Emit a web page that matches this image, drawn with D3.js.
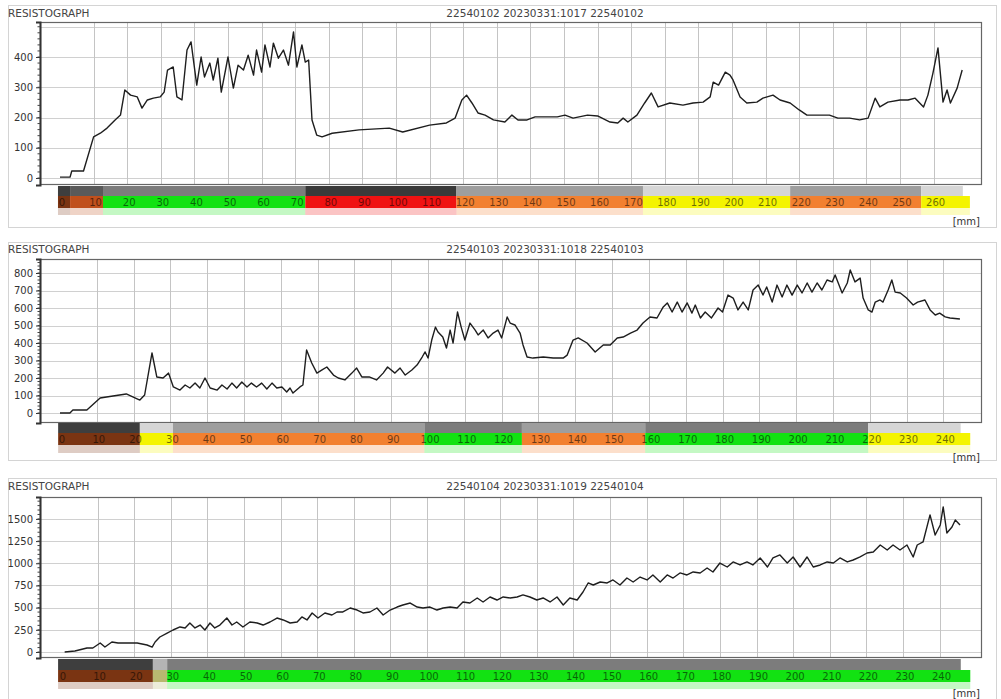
<!DOCTYPE html>
<html><head><meta charset="utf-8">
<script src="https://cdn.jsdelivr.net/npm/d3@7"></script>
<style>
body{margin:0;background:#fff;}
svg text{font-family:"DejaVu Sans",Verdana,sans-serif;}
</style>
</head><body>
<svg id="c" width="1001" height="699"></svg>
<script>
// ---------- DATA ----------
const chartTitle = "RESISTOGRAPH";
const subtitles = ["22540102 20230331:1017 22540102", "22540103 20230331:1018 22540103", "22540104 20230331:1019 22540104"];
const unitLabel = "[mm]";

// Panel 1 (depth mm, amplitude)
const depth1 = [0,3,3.5,7,10,12,14,16.4,18,19.3,21,23,24.4,26,27.8,29.8,31,32,33.7,34.8,36.3,37.8,39,40.7,42,43,44.6,45.6,47,48,50,51.6,53,54.6,56,57.6,58.5,60,61,62.5,63.5,65,66.5,68,69.5,70.5,72,73,74,75,76.4,78,81,89,98,102,110,115,117.6,119.6,121,122.6,124.4,126.5,129,132.4,134.5,136.3,139,141.4,148,150.3,152.7,157,160,163.7,166,167.6,169,171.7,174,176,178,181.5,185.4,188.4,191.4,193.5,194.4,196,198,199.4,200.3,202.4,204.4,207.4,209.2,212.2,214.3,217.3,220,222.3,226,229,231.5,235,238,240.5,242.6,244,246.4,250,252.4,254.5,257,258.3,259.8,261.3,262.8,264,265,267,268.5];
const amp1 = [3,3,23,23,136,148,165,192,208,291,274,268,231,258,264,268,284,357,367,268,258,423,450,307,400,334,380,324,396,284,400,297,373,357,406,340,423,350,440,367,446,396,423,373,483,367,440,383,390,192,142,136,148,159,165,152,175,182,198,258,274,248,215,208,192,185,208,192,192,202,202,208,198,208,205,185,182,198,185,208,248,281,235,248,241,248,251,268,317,307,350,340,324,268,248,251,264,274,258,248,225,208,208,208,198,198,192,198,264,235,251,258,258,264,235,274,347,430,251,291,248,297,357];

// Panel 2
const depth2 = [0,2.7,3.5,7.3,10.9,14.4,18,21.7,23,25,26.3,28,29.5,30.8,32.6,34,35.3,36.7,38,39.4,40.8,42.7,44,45.4,46.7,48,49.4,50.8,52,53.4,54.8,56.2,57.6,58.9,60.3,61.6,62.5,63.3,65.2,66,67,68.4,69.8,71.2,72.5,74.3,75.6,77.4,79.3,80.6,82,84,86,87.8,89,91,92.4,93.8,95.6,97,98.4,99.2,100,101,102,102.7,104,105,106,106.8,108,109,110,111.4,112.8,113.6,115,116.3,117.7,119,120,121.5,122.3,123.6,125,125.8,126.9,128.5,131.3,134,136.7,137.8,139.4,140.8,143.2,145.4,147.6,149.5,151.4,153,155,156.8,158.4,160.3,162.2,163.9,165,166.3,167.7,169,170.4,171.7,172.6,174,175.3,177,178.8,180,181.5,182.9,184.2,185.6,187,188.3,189.7,191,192,193.5,194.8,196.2,197.5,198.9,200.3,201.6,203,204.3,205.7,207,208.4,209.8,210.6,212.5,213.9,214.7,216,217.4,218.2,219.6,220.6,221.5,222.8,223.6,225,226,226.9,228.3,230,231.8,233,235,236.4,237.8,239,240.5,241.8,244.5];
const amp2 = [0,0,17,17,86,97,109,74,103,343,206,200,228,149,131,160,143,171,143,200,143,131,160,137,171,143,177,149,171,149,171,137,171,143,149,120,143,114,149,160,360,286,228,246,263,217,200,189,228,257,206,206,189,228,263,228,257,217,246,274,320,349,314,417,491,463,434,371,474,400,577,491,417,514,474,446,474,429,457,474,429,549,514,503,457,389,320,314,320,314,314,331,417,429,400,349,389,389,429,434,457,474,514,549,543,606,629,577,634,577,629,571,617,543,577,543,600,577,674,657,589,634,589,703,731,674,720,634,731,663,731,674,731,686,743,691,743,703,760,749,789,686,743,817,749,771,657,589,577,634,646,634,703,760,691,686,657,617,634,646,589,560,571,549,543,537];

// Panel 3
const depth3 = [1,3.8,7.1,8.7,10.7,12,13.9,15.6,18,20.8,23.5,24.9,25.7,27,29,30.6,32.5,33.9,35.2,36.6,38,39.3,40.7,42,43.4,45.3,46.7,48,49.7,51.6,53.6,55.2,57.1,59,60.7,62.6,64.5,65.8,67.2,68.6,70.2,72.1,74,75.4,77,79,80.9,82.5,84.4,86.3,88,89.9,91.8,93.4,95.4,97.3,98.9,100.8,102.7,104.4,106.3,108.2,109.8,111.7,113.7,115.3,117.2,119.1,120.8,122.7,124.6,126.2,128.1,130,131.7,133.6,135.5,137.2,139,141,142.6,144,145.4,147.3,149.2,150.8,152.7,154.6,156.3,158.2,160.1,161.7,163.7,165.6,167.2,169.1,171,172.7,174.6,176.5,178.1,180,182,183.6,185.5,187.4,189,191,193,194.5,196.4,198.4,200,201.9,203.8,205.5,207.4,209.3,211,212.8,214.8,216.4,218.3,220.2,221.9,223.8,225.7,227.3,229.2,231.1,232.8,233.9,235.5,237.4,238.8,240.2,241,242,243.4,244.3,245.6];
const amp3 = [0,11,45,45,101,56,113,101,101,101,79,56,113,169,214,248,282,271,327,271,304,248,327,271,304,383,304,338,282,338,327,304,338,383,361,327,338,395,361,440,383,440,417,451,451,496,473,440,451,496,417,473,507,530,552,507,496,507,473,496,507,496,564,552,609,564,620,586,620,609,620,643,620,586,609,564,620,530,609,586,676,778,755,789,778,812,755,834,789,845,812,868,789,868,834,891,868,902,891,947,902,1003,958,1015,981,1015,981,1060,958,1060,1094,1003,1071,958,1071,958,981,1015,1003,1060,1015,1037,1071,1116,1127,1206,1150,1206,1150,1206,1071,1206,1240,1545,1319,1432,1635,1342,1409,1488,1432];

// Y tick labels
const yTicks1 = [0,100,200,300,400];
const yTicks2 = [0,100,200,300,400,500,600,700,800];
const yTicks3 = [0,250,500,750,1000,1250,1500];

// X (depth) labels
const xLabels1 = [0,10,20,30,40,50,60,70,80,90,100,110,120,130,140,150,160,170,180,190,200,210,220,230,240,250,260];
const xLabels2 = [0,10,20,30,40,50,60,70,80,90,100,110,120,130,140,150,160,170,180,190,200,210,220,230,240];
const xLabels3 = [0,10,20,30,40,50,60,70,80,90,100,110,120,130,140,150,160,170,180,190,200,210,220,230,240];

// Zone bars: [from mm, to mm, class]
const zones1 = [[-0.6,3,"brown"],[3,12.8,"darkorange"],[12.8,73,"green"],[73,118,"red"],[118,173.5,"orange"],[173.5,217.3,"yellow"],[217.3,256.3,"orange"],[256.3,270.8,"yellow"]];
const zones2 = [[-0.5,21.7,"brown"],[21.7,30.7,"yellow"],[30.7,99,"orange"],[99,125.5,"green"],[125.5,159,"orange"],[159,219.6,"green"],[219.6,247.3,"yellow"]];
const zones3 = [[-0.8,25.1,"brown"],[25.1,29,"olive"],[29,248.4,"green"]];

// ---------- STYLE / LAYOUT ----------
const zoneColor = {brown:"#7a3412",darkorange:"#c0501c",green:"#12e212",red:"#f01212",orange:"#f28030",yellow:"#f4f400",olive:"#b8b870"};
const zoneGrey  = {brown:"#3e3e3e",darkorange:"#5a5a5a",green:"#7c7c7c",red:"#3a3a3a",orange:"#9e9e9e",yellow:"#d6d6d6",olive:"#b4b4b4"};

const panels = [
  {depth:depth1, amp:amp1, yTicks:yTicks1, xLabels:xLabels1, zones:zones1, sub:subtitles[0],
   box:[8,5,996,227], plot:[40,22,982,185], xd:[-5.95,274.4], yd:[-23.1,515.7], minor:20, titleY:17, rows:[186,196,208,215], unitY:225},
  {depth:depth2, amp:amp2, yTicks:yTicks2, xLabels:xLabels2, zones:zones2, sub:subtitles[1],
   box:[8,242,996,460], plot:[40,259,982,423], xd:[-5.43,250.5], yd:[-57,880], minor:20, titleY:253, rows:[423,433,445,453], unitY:461},
  {depth:depth3, amp:amp3, yTicks:yTicks3, xLabels:xLabels3, zones:zones3, sub:subtitles[2],
   box:[8,478,996,699], plot:[40,497,982,658], xd:[-5.74,251.6], yd:[-67.6,1747], minor:50, titleY:490, rows:[659,670,682,689], unitY:697}
];

const svg = d3.select("#c");

panels.forEach(p => {
  const g = svg.append("g");
  const [bx0,by0,bx1,by1] = p.box;
  const [px0,py0,px1,py1] = p.plot;
  const x = d3.scaleLinear().domain(p.xd).range([px0,px1]);
  const y = d3.scaleLinear().domain(p.yd).range([py1,py0]);

  // outer box
  g.append("rect").attr("x",bx0+0.5).attr("y",by0+0.5).attr("width",bx1-bx0).attr("height",by1-by0)
    .attr("fill","none").attr("stroke","#d4d4d4");

  // titles
  g.append("text").attr("x",bx0).attr("y",p.titleY).attr("font-size",10.5).attr("fill","#444").text(chartTitle);
  g.append("text").attr("x",545).attr("y",p.titleY).attr("font-size",10.5).attr("fill","#444")
    .attr("text-anchor","middle").text(p.sub);

  // plot area
  g.append("rect").attr("x",px0).attr("y",py0).attr("width",px1-px0).attr("height",py1-py0).attr("fill","#fff");

  // grid
  const ystep = p.yTicks[1]-p.yTicks[0];
  const gridY = d3.range(0, p.yd[1], ystep);
  g.append("g").selectAll("line").data(gridY).join("line")
    .attr("x1",px0).attr("x2",px1).attr("y1",d=>Math.round(y(d))+0.5).attr("y2",d=>Math.round(y(d))+0.5)
    .attr("stroke","#d0d0d0").attr("stroke-width",1);
  g.append("g").selectAll("line").data(p.xLabels.filter(d=>d>0)).join("line")
    .attr("y1",py0).attr("y2",py1).attr("x1",d=>Math.round(x(d))+0.5).attr("x2",d=>Math.round(x(d))+0.5)
    .attr("stroke","#c4c4c4").attr("stroke-width",1);

  // frame
  g.append("rect").attr("x",px0+0.5).attr("y",py0+0.5).attr("width",px1-px0-1).attr("height",py1-py0-1)
    .attr("fill","none").attr("stroke","#666").attr("stroke-width",1.2);

  // y axis
  const yAxis = d3.axisLeft(y).tickValues(p.yTicks).tickFormat(d3.format("d")).tickSize(4).tickPadding(3);
  const ya = g.append("g").attr("transform",`translate(${px0},0)`).call(yAxis);
  ya.select(".domain").attr("stroke","#333").attr("stroke-width",2);
  ya.selectAll(".tick line").attr("stroke","#333");
  ya.selectAll(".tick text").attr("font-size",10).attr("fill","#333").attr("font-family","DejaVu Sans, Verdana, sans-serif");
  const minorT = d3.range(0, p.yd[1], p.minor);
  g.append("g").selectAll("line").data(minorT).join("line")
    .attr("x1",px0-2.5).attr("x2",px0).attr("y1",d=>y(d)).attr("y2",d=>y(d))
    .attr("stroke","#444").attr("stroke-width",1);

  // zone bars
  const [r0,r1,r2,r3] = p.rows;
  const lastDepth = p.depth[p.depth.length-1];
  const zb = g.append("g");
  zb.selectAll("rect.g").data(p.zones).join("rect")
    .attr("x",d=>x(Math.max(d[0],p.xd[0]))).attr("y",r0)
    .attr("width",d=>Math.max(0, x(Math.min(d[1],lastDepth+0.2)) - x(d[0])))
    .attr("height",r1-r0).attr("fill",d=>zoneGrey[d[2]]);
  zb.selectAll("rect.c").data(p.zones).join("rect")
    .attr("x",d=>x(d[0])).attr("y",r1).attr("width",d=>x(d[1])-x(d[0])).attr("height",r2-r1)
    .attr("fill",d=>zoneColor[d[2]]);
  zb.selectAll("rect.p").data(p.zones).join("rect")
    .attr("x",d=>x(d[0])).attr("y",r2).attr("width",d=>x(d[1])-x(d[0])).attr("height",r3-r2)
    .attr("fill",d=>zoneColor[d[2]]).attr("opacity",0.25);

  // depth labels
  g.append("g").selectAll("text").data(p.xLabels).join("text")
    .attr("x",d=>x(d)+2).attr("y",(r1+r2)/2+4).attr("text-anchor","middle")
    .attr("font-size",10).attr("fill","#000").attr("opacity",0.55).text(d=>d);

  g.append("text").attr("x",980).attr("y",p.unitY).attr("text-anchor","end").attr("font-size",10)
    .attr("fill","#333").text(unitLabel);

  // curve
  const line = d3.line().x((d,i)=>x(p.depth[i])).y(d=>y(d));
  g.append("path").datum(p.amp).attr("d",line).attr("fill","none")
    .attr("stroke","#1e1e1e").attr("stroke-width",1.4).attr("stroke-linejoin","round");
});
</script>
</body></html>
